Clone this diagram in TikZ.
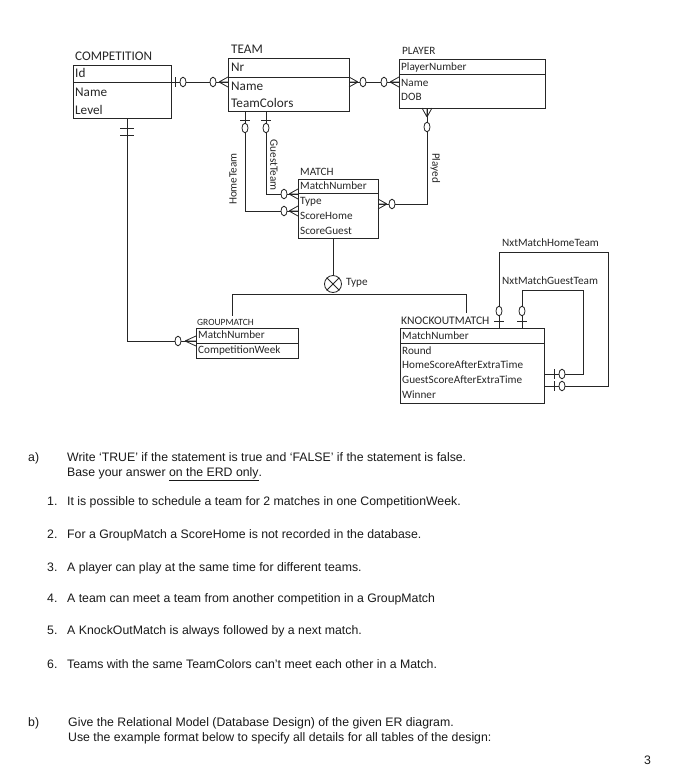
\documentclass[tikz,border=0pt]{standalone}
\usepackage{fontspec}
\setmainfont{Liberation Sans}
\newfontfamily\erdfont{Carlito}
\usetikzlibrary{calc}
\newcommand\erdO[1]{\draw[conn,fill=white] (#1) ellipse [x radius=3, y radius=4.8];}
\newcommand\erdCrow[4]{\draw[conn] (#1) -- (#2) (#1) -- (#3) (#1) -- (#4);}
\tikzset{
  ent/.style={draw=black!85, line width=1pt, inner sep=0pt, anchor=north west},
  conn/.style={draw=black!85, line width=0.8pt},
  fbig/.style={font=\erdfont\fontsize{13.2}{15}\selectfont, text=black!85, inner sep=0pt, anchor=west, text height=8.4pt, text depth=0pt},
  fmid/.style={font=\erdfont\fontsize{11.2}{13}\selectfont, text=black!85, inner sep=0pt, anchor=west, text height=7.2pt, text depth=0pt},
  fsmall/.style={font=\erdfont\fontsize{9.5}{11}\selectfont, text=black!85, inner sep=0pt, anchor=west, text height=6pt, text depth=0pt},
  body/.style={font=\fontsize{12.3}{15}\selectfont, text=black!90, inner sep=0pt, anchor=west, text height=8.8pt, text depth=0pt},
}
\begin{document}
\begin{tikzpicture}[x=1pt,y=-1pt]
\useasboundingbox (0,0) rectangle (673,769);
% ---------- entities ----------
% COMPETITION
\node[fbig] (compT) at (75,56) {COMPETITION};
\node[ent, minimum width=98pt, minimum height=53pt] (comp) at (73,65) {};
\draw[conn] (73,82) -- (171,82);
\node[fbig] (compA) at (75,73) {Id};
\node[fbig] (compB) at (75,92) {Name};
\node[fbig] (compC) at (75,110) {Level};
% TEAM
\node[fbig] (teamT) at (231,49) {TEAM};
\node[ent, minimum width=121pt, minimum height=53pt] (team) at (228,58) {};
\draw[conn] (228,77) -- (349,77);
\node[fbig] (teamA) at (231,67) {Nr};
\node[fbig] (teamB) at (231,86) {Name};
\node[fbig] (teamC) at (231,103) {TeamColors};
% PLAYER
\node[fmid] (playT) at (402,51) {PLAYER};
\node[ent, minimum width=146pt, minimum height=49pt] (play) at (399,59) {};
\draw[conn] (399,74) -- (545,74);
\node[fmid] (playA) at (401,67) {PlayerNumber};
\node[fmid] (playB) at (401,83) {Name};
\node[fmid] (playC) at (401,97) {DOB};
% MATCH
\node[fmid] (matT) at (300,172) {MATCH};
\node[ent, minimum width=80pt, minimum height=59pt] (mat) at (298,179) {};
\draw[conn] (298,193) -- (378,193);
\node[fmid] (matA) at (300,186) {MatchNumber};
\node[fmid] (matB) at (300,201) {Type};
\node[fmid] (matC) at (300,216) {ScoreHome};
\node[fmid] (matD) at (300,231) {ScoreGuest};
% GROUPMATCH
\node[fsmall] (grpT) at (197,322) {GROUPMATCH};
\node[ent, minimum width=102pt, minimum height=30pt] (grp) at (196,328) {};
\draw[conn] (196,343) -- (298,343);
\node[fmid] (grpA) at (198,335) {MatchNumber};
\node[fmid] (grpB) at (198,350) {CompetitionWeek};
% KNOCKOUTMATCH
\node[fmid, font=\erdfont\fontsize{11.6}{13}\selectfont] (koT) at (401,321) {KNOCKOUTMATCH};
\node[ent, minimum width=144pt, minimum height=75pt] (ko) at (400,328) {};
\draw[conn] (400,343) -- (544,343);
\node[fmid] (koA) at (402,336) {MatchNumber};
\node[fmid] (koB) at (402,351) {Round};
\node[fmid] (koC) at (402,365) {HomeScoreAfterExtraTime};
\node[fmid] (koD) at (402,380) {GuestScoreAfterExtraTime};
\node[fmid] (koE) at (402,395) {Winner};

% ---------- connectors ----------
% Competition - Team
\draw[conn] (comp.east |- 0,82) -- (team.west |- 0,82);
\draw[conn] (175,77) -- (175,87);
\erdO{183,82}
\erdO{213,82}
\erdCrow{219,82}{228,77}{228,82}{228,87}
% Team - Player
\draw[conn] (team.east |- 0,82) -- (play.west |- 0,82);
\erdCrow{358,82}{349,77}{349,82}{349,87}
\erdO{363,82}
\erdO{384,82}
\erdCrow{390,82}{399,77}{399,82}{399,87}
% Player - Match (Played)
\coordinate (pl1) at (427,204);
\draw[conn] (play.south -| 427,0) -- (pl1) -- (mat.east |- pl1);
\erdCrow{427,117}{422,108}{427,108}{432,108}
\erdO{427,127}
\erdCrow{387,204}{378,199}{378,204}{378,209}
\erdO{392,204}
\node[fmid, anchor=center, rotate=-90] (lblPlayed) at (436,168) {Played};
% Team - Match (HomeTeam)
\coordinate (ht1) at (245,211);
\draw[conn] (team.south -| 245,0) -- (ht1) -- (mat.west |- ht1);
\draw[conn] (240,120) -- (250,120);
\erdO{245,128}
\erdO{284,211}
\erdCrow{289,211}{298,206}{298,211}{298,216}
\node[fmid, anchor=center, rotate=90] (lblHome) at (233,179) {HomeTeam};
% Team - Match (GuestTeam)
\coordinate (gt1) at (266,194);
\draw[conn] (team.south -| 266,0) -- (gt1) -- (mat.west |- gt1);
\draw[conn] (261,120) -- (271,120);
\erdO{266,128}
\erdO{284,194}
\erdCrow{289,194}{298,189}{298,194}{298,199}
\node[fmid, anchor=center, rotate=-90] (lblGuest) at (274,165) {GuestTeam};
% Competition - GroupMatch
\coordinate (cg1) at (127,341);
\draw[conn] (comp.south -| 127,0) -- (cg1) -- (grp.west |- cg1);
\draw[conn] (120,128) -- (134,128);
\draw[conn] (120,135) -- (134,135);
\erdO{178,341}
\erdCrow{185,341}{196,336}{196,341}{196,346}
% Subtype
\node[draw=black!85, line width=0.8pt, circle, minimum size=17pt, inner sep=0pt] (typ) at (333,284) {};
\draw[conn] (typ.north west) -- (typ.south east) (typ.north east) -- (typ.south west);
\draw[conn] (mat.south -| typ) -- (typ.north);
\node[fmid] (lblType) at (346,282) {Type};
\coordinate (sL) at (232,294);
\coordinate (sR) at (466,294);
\draw[conn] (sL) -- (sR);
\draw[conn] (sL) -- (232,316);
\draw[conn] (sR) -- (466,313);
% Knockout self relations
\coordinate (h1) at (499,252);
\coordinate (h2) at (608,252);
\coordinate (h3) at (608,386);
\draw[conn] (ko.north -| h1) -- (h1) -- (h2) -- (h3) -- (ko.east |- h3);
\draw[conn] (494,321) -- (504,321);
\erdO{499,311}
\draw[conn] (554,381) -- (554,391);
\erdO{562,386}
\coordinate (g1) at (522,290);
\coordinate (g2) at (583,290);
\coordinate (g3) at (583,374);
\draw[conn] (ko.north -| g1) -- (g1) -- (g2) -- (g3) -- (ko.east |- g3);
\draw[conn] (517,321) -- (527,321);
\erdO{522,311}
\draw[conn] (554,369) -- (554,379);
\erdO{562,374}
\node[fmid] (lblNH) at (502,243) {NxtMatchHomeTeam};
\node[fmid] (lblNG) at (502,281) {NxtMatchGuestTeam};

% ---------- questions ----------
\node[body] (qa) at (28,457) {a)};
\node[body] (qa1) at (67,457) {Write ‘TRUE’ if the statement is true and ‘FALSE’ if the statement is false.};
\node[body] (qa2) at (67,472) {Base your answer \underline{on the ERD only}.};
\node[body] (n1) at (47,501) {1.};
\node[body] (t1) at (67,501) {It is possible to schedule a team for 2 matches in one CompetitionWeek.};
\node[body] (n2) at (47,534) {2.};
\node[body] (t2) at (67,534) {For a GroupMatch a ScoreHome is not recorded in the database.};
\node[body] (n3) at (47,567) {3.};
\node[body] (t3) at (67,567) {A player can play at the same time for different teams.};
\node[body] (n4) at (47,598) {4.};
\node[body] (t4) at (67,598) {A team can meet a team from another competition in a GroupMatch};
\node[body] (n5) at (47,630) {5.};
\node[body] (t5) at (67,630) {A KnockOutMatch is always followed by a next match.};
\node[body] (n6) at (47,664) {6.};
\node[body] (t6) at (67,664) {Teams with the same TeamColors can’t meet each other in a Match.};
\node[body] (qb) at (28,722) {b)};
\node[body] (qb1) at (68,722) {Give the Relational Model (Database Design) of the given ER diagram.};
\node[body] (qb2) at (68,737) {Use the example format below to specify all details for all tables of the design:};
\node[body] (pg) at (644,760) {3};
\end{tikzpicture}
\end{document}
